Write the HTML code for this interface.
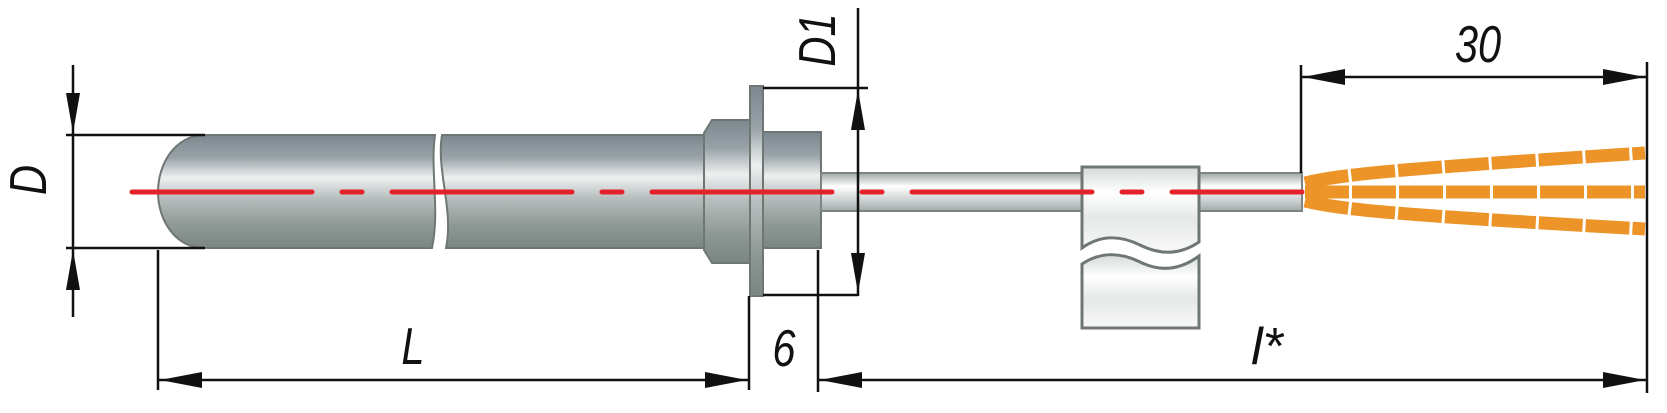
<!DOCTYPE html>
<html><head><meta charset="utf-8"><style>
html,body{margin:0;padding:0;background:#fff;}
svg{display:block;}
text{font-family:"Liberation Sans",sans-serif;font-style:italic;fill:#111;}
</style></head><body>
<svg width="1667" height="413" viewBox="0 0 1667 413" xmlns="http://www.w3.org/2000/svg">
<defs>
<linearGradient id="g" x1="0" y1="0" x2="0" y2="1">
<stop offset="0" stop-color="#7c868e"/><stop offset="0.2" stop-color="#9aa3a8"/>
<stop offset="0.38" stop-color="#eef0f0"/><stop offset="0.55" stop-color="#b9bfbf"/>
<stop offset="0.8" stop-color="#8e9895"/><stop offset="1" stop-color="#7b8581"/>
</linearGradient>
<linearGradient id="gl" x1="0" y1="0" x2="0" y2="1">
<stop offset="0" stop-color="#d6dada"/><stop offset="0.3" stop-color="#ffffff"/>
<stop offset="0.6" stop-color="#e6e8e8"/><stop offset="1" stop-color="#f8f8f8"/>
</linearGradient>
<linearGradient id="gt" x1="0" y1="0" x2="0" y2="1">
<stop offset="0" stop-color="#9ea6a6"/><stop offset="0.35" stop-color="#ffffff"/>
<stop offset="0.7" stop-color="#d0d4d4"/><stop offset="1" stop-color="#a3aaaa"/>
</linearGradient>
</defs>
<path d="M205,135 H435 C430,170 440,210 432,248 H205 C175,248 158,220 158,192 C158,164 175,135 205,135 Z" fill="url(#g)" stroke="#6f7775" stroke-width="2"/>
<path d="M442,135 H705 V248 H446 C454,210 436,170 442,135 Z" fill="url(#g)" stroke="#6f7775" stroke-width="2"/>
<path d="M712,120 H750 V263 H712 L704,250 V133 Z" fill="url(#g)" stroke="#6f7775" stroke-width="2"/>
<rect x="750" y="86" width="13" height="210" fill="url(#g)" stroke="#6f7775" stroke-width="2"/>
<rect x="763" y="132" width="58" height="116" fill="url(#g)" stroke="#6f7775" stroke-width="2"/>
<rect x="821" y="173" width="481" height="38" fill="url(#gt)" stroke="#7d8584" stroke-width="2"/>
<path d="M1082,167 H1199 V242 C1180,255 1160,255 1140,245 C1120,235 1100,235 1082,248 Z" fill="url(#gl)" stroke="#6f7775" stroke-width="3"/>
<path d="M1082,264 C1100,252 1120,252 1140,262 C1160,272 1180,270 1199,256 V328 H1082 Z" fill="url(#gl)" stroke="#6f7775" stroke-width="3"/>
<g fill="none" stroke="#ec9428" stroke-width="13" stroke-dasharray="44 3">
<path d="M1305,183 C1340,175 1380,170 1645,153"/>
<path d="M1305,192 L1645,192"/>
<path d="M1305,201 C1340,209 1380,214 1645,229"/>
</g>
<line x1="132" y1="192" x2="1302" y2="192" stroke="#e3222a" stroke-width="5" stroke-linecap="round" stroke-dasharray="180 30 20 30"/>
<g stroke="#111" stroke-width="2.5" fill="none">
<line x1="73" y1="65" x2="73" y2="317"/>
<line x1="66" y1="135" x2="205" y2="135"/>
<line x1="66" y1="248" x2="205" y2="248"/>
<line x1="858" y1="8" x2="858" y2="296"/>
<line x1="763" y1="88" x2="868" y2="88"/>
<line x1="763" y1="295" x2="858" y2="295"/>
<line x1="158" y1="250" x2="158" y2="390"/>
<line x1="749" y1="296" x2="749" y2="390"/>
<line x1="818" y1="250" x2="818" y2="392"/>
<line x1="1647" y1="62" x2="1647" y2="393"/>
<line x1="1301" y1="65" x2="1301" y2="173"/>
<line x1="158" y1="380" x2="749" y2="380"/>
<line x1="818" y1="380" x2="1647" y2="380"/>
<line x1="1301" y1="77" x2="1647" y2="77"/>
</g>
<g fill="#111">
<polygon points="73,133 66,93 80,93"/>
<polygon points="73,250 66,290 80,290"/>
<polygon points="858,90 851,130 865,130"/>
<polygon points="858,293 851,253 865,253"/>
<polygon points="160,380 202,372 202,388"/>
<polygon points="747,380 705,372 705,388"/>
<polygon points="820,380 862,372 862,388"/>
<polygon points="1645,380 1603,372 1603,388"/>
<polygon points="1303,77 1345,69 1345,85"/>
<polygon points="1645,77 1603,69 1603,85"/>
</g>
<text font-size="52" text-anchor="middle" transform="translate(46,180) rotate(-90) scale(0.8,1)">D</text>
<text font-size="52" text-anchor="middle" transform="translate(835,40) rotate(-90) scale(0.8,1)">D1</text>
<text font-size="52" text-anchor="middle" transform="translate(413,364) scale(0.8,1)">L</text>
<text font-size="52" text-anchor="middle" transform="translate(784,366) scale(0.8,1)">6</text>
<text font-size="52" text-anchor="middle" font-family="Liberation Serif" transform="translate(1267,364)">l*</text>
<text font-size="52" text-anchor="middle" transform="translate(1478,62) scale(0.8,1)">30</text>
</svg>
</body></html>
